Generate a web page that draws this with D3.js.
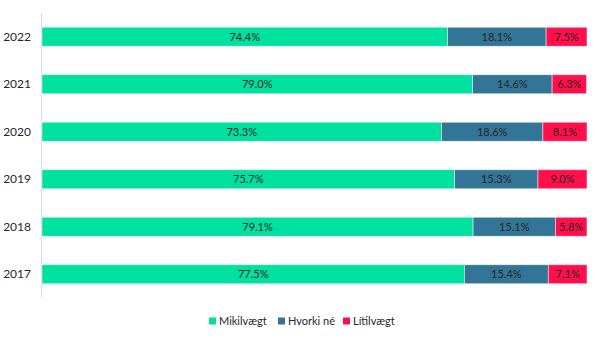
<!DOCTYPE html>
<html>
<head>
<meta charset="utf-8">
<script src="https://cdn.jsdelivr.net/npm/d3@7/dist/d3.min.js"></script>
<style>
  html, body { margin: 0; padding: 0; background: #fff; }
  svg { display: block; }
  text { font-family: Lato, "Open Sans", sans-serif; fill: #262626; }
</style>
</head>
<body>
<svg id="chart" width="600" height="339"></svg>
<script>
// Years, top to bottom
const years = ["2022", "2021", "2020", "2019", "2018", "2017"];
// Share of answers per year (%)
const mikilvaegt = [74.4, 79.0, 73.3, 75.7, 79.1, 77.5];
const hvorkiNe   = [18.1, 14.6, 18.6, 15.3, 15.1, 15.4];
const litilvaegt = [7.5, 6.3, 8.1, 9.0, 5.8, 7.1];
const seriesNames = ["Mikilvægt", "Hvorki né", "Lítilvægt"];
const seriesColors = ["#00e09e", "#337596", "#ff0f4b"];

const rows = years.map((y, i) => ({
  year: y,
  "Mikilvægt": mikilvaegt[i],
  "Hvorki né": hvorkiNe[i],
  "Lítilvægt": litilvaegt[i]
}));

const svg = d3.select("#chart");
const margin = { left: 42, right: 13, top: 13, bottom: 41 };
const W = 600, H = 339;

const x = d3.scaleLinear().domain([0, 100]).range([margin.left, W - margin.right]);
const y = d3.scaleBand().domain(years).range([margin.top, H - margin.bottom]).paddingInner(0.6).paddingOuter(0.3);
const color = d3.scaleOrdinal().domain(seriesNames).range(seriesColors);

const stack = d3.stack().keys(seriesNames)(rows);

// category axis line
svg.append("line")
  .attr("x1", margin.left - 0.5).attr("x2", margin.left - 0.5)
  .attr("y1", margin.top).attr("y2", H - margin.bottom)
  .attr("stroke", "#d9d9d9").attr("stroke-width", 1);

// year labels
svg.append("g").selectAll("text").data(years).join("text")
  .attr("x", 31)
  .attr("y", d => y(d) + y.bandwidth() / 2)
  .attr("dy", "0.35em")
  .attr("text-anchor", "end")
  .attr("font-size", 12)
  .text(d => d);

// stacked segments
const groups = svg.append("g").selectAll("g").data(stack).join("g")
  .attr("fill", d => color(d.key));

groups.selectAll("rect").data(d => d).join("rect")
  .attr("x", d => x(d[0]))
  .attr("y", d => y(d.data.year))
  .attr("width", d => x(d[1]) - x(d[0]))
  .attr("height", y.bandwidth())
  .attr("stroke", "#ffffff")
  .attr("stroke-opacity", 0.6)
  .attr("stroke-width", 0.8);

// value labels centred in each segment
groups.selectAll("text").data(d => d.map(v => ({ v, key: d.key }))).join("text")
  .attr("x", d => (x(d.v[0]) + x(d.v[1])) / 2)
  .attr("y", d => y(d.v.data.year) + y.bandwidth() / 2)
  .attr("dy", "0.36em")
  .attr("text-anchor", "middle")
  .attr("font-size", 11)
  .text(d => d.v.data[d.key].toFixed(1) + "%");

// legend
const legendX = [209, 278, 343];
const legend = svg.append("g").selectAll("g").data(seriesNames).join("g")
  .attr("transform", (d, i) => `translate(${legendX[i]},321)`);
legend.append("rect")
  .attr("x", 0).attr("y", -3.5).attr("width", 7).attr("height", 7)
  .attr("fill", d => color(d));
legend.append("text")
  .attr("x", 10).attr("y", 0).attr("dy", "0.35em")
  .attr("font-size", 11)
  .text(d => d);
</script>
</body>
</html>
